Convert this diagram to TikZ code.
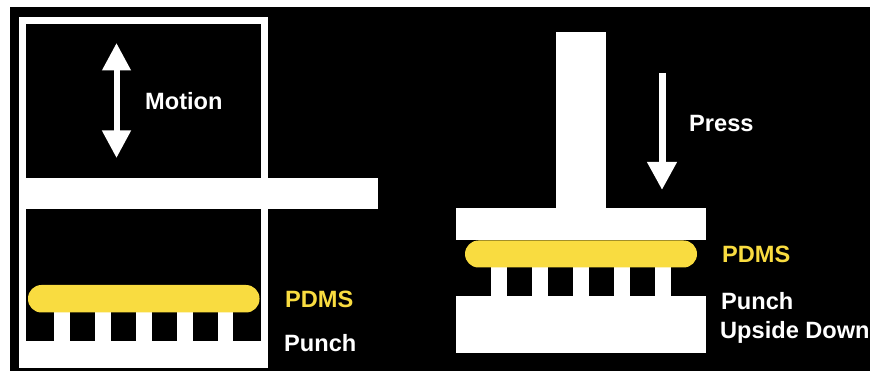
\documentclass[tikz,border=0pt]{standalone}
\usepackage{fontspec}
\setmainfont{Liberation Sans}
\usetikzlibrary{arrows.meta}
\definecolor{pdms}{HTML}{F9DC40}
\tikzset{
  x=1pt,y=-1pt,
  solid white/.style={fill=white,draw=none},
  void/.style={fill=black,draw=none},
  stamp/.style={fill=pdms,draw=none,rounded corners=13.5pt},
  lbl/.style={anchor=base west,inner sep=0pt,font=\fontsize{23.6}{26}\bfseries\selectfont,text=white},
  lbly/.style={lbl,text=pdms},
  motion arrow/.style={draw=white,line width=6pt,{Triangle[width=27.5pt,length=27.5pt,fill=white]}-{Triangle[width=27.5pt,length=27.5pt,fill=white]}},
  press arrow/.style={draw=white,line width=7pt,-{Triangle[width=28pt,length=28pt,fill=white]}},
}
\begin{document}
\begin{tikzpicture}
\useasboundingbox (0,0) rectangle (870,371);
\fill[white] (0,0) rectangle (870,371);
\fill[black] (10,7) rectangle (870,371);
% left machine
\path[solid white] (19,17.5) rectangle (268,368);
\path[void] (26,24.5) rectangle (261,178.5);
\path[void] (26,209.5) rectangle (261,340.5);
\path[solid white] (26,178.5) rectangle (378,209.5);
\foreach \a/\b in {54/70,95/111,136/152,177/193,218/233}
  \path[solid white] (\a,312) rectangle (\b,341);
\path[stamp] (28,285) rectangle (259.5,312.5);
\coordinate (mtop) at (116.5,43);
\coordinate (mbot) at (116.5,158);
\draw[motion arrow] (mtop) -- (mbot);
\node[lbl] (motion) at (145,109.5) {Motion};
\node[lbly] (pdmsl) at (285,307.5) {PDMS};
\node[lbl] (punchl) at (284,352) {Punch};
% right press
\path[solid white] (556,32) rectangle (606,209);
\path[solid white] (456,208) rectangle (705.5,240.5);
\path[solid white] (456,296) rectangle (705.5,353);
\foreach \a/\b in {491/507,532/548,573/589,614/630,655/670.5}
  \path[solid white] (\a,266) rectangle (\b,297);
\path[stamp] (465,240.5) rectangle (697,267.5);
\coordinate (ptop) at (662,73);
\coordinate (pbot) at (662,190);
\draw[press arrow] (ptop) -- (pbot);
\node[lbl] (press) at (689,132) {Press};
\node[lbly] (pdmsr) at (722,262.5) {PDMS};
\node[lbl] (punchr) at (721,309) {Punch};
\node[lbl] (upside) at (720,338) {Upside Down};
\end{tikzpicture}
\end{document}
